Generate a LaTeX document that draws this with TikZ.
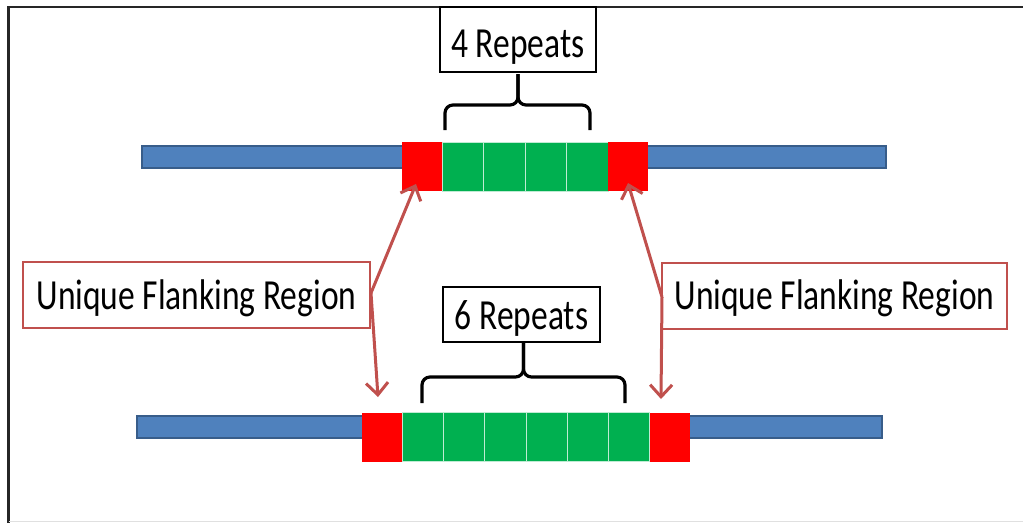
\documentclass[tikz,border=0pt]{standalone}
\usepackage{fontspec}
\setmainfont{Carlito}
\usetikzlibrary{arrows.meta}
\definecolor{barblue}{HTML}{4F81BD}
\definecolor{barline}{HTML}{385D8A}
\definecolor{flankred}{HTML}{FF0000}
\definecolor{repgreen}{HTML}{00B050}
\definecolor{accred}{HTML}{C0504D}
\tikzset{
  bar/.style={fill=barblue,draw=barline,line width=1.2pt},
  flank/.style={fill=flankred,draw=none,minimum width=40pt,minimum height=49pt,inner sep=0pt},
  rep/.style={fill=repgreen,draw=white!75!repgreen,line width=1pt,minimum width=41.4pt,minimum height=49pt,inner sep=0pt},
  countbox/.style={draw=black,line width=2pt,fill=white,minimum height=55pt,inner sep=0pt,font=\fontsize{33.5}{40}\selectfont},
  labelbox/.style={draw=accred,line width=2pt,fill=white,minimum width=347pt,minimum height=66pt,inner sep=0pt,font=\fontsize{33.5}{40}\selectfont},
  brace/.style={draw=black,line width=3.2pt,rounded corners=8pt},
  pointer/.style={draw=accred,line width=3pt,-{Straight Barb[length=12pt,width=22pt,line width=3pt]}}
}
\newcommand{\tallt}[2][-15pt]{\raisebox{#1}[0pt][0pt]{\scalebox{1}[1.28]{#2}}}
\begin{document}
\begin{tikzpicture}[x=1pt,y=-1pt]
\useasboundingbox (0,0) rectangle (1023,523);
\fill[white] (0,0) rectangle (1023,523);
% frame
\draw[black!85,line width=2.5pt] (1023,7) -- (8.5,7) -- (8.5,523);
\draw[black!12,line width=1pt] (8.5,521) -- (1023,521);

% top row
\node[bar,minimum width=744pt,minimum height=22pt,inner sep=0pt] (tbar) at (514,157) {};
\node[flank] (tL) at (422,166.5) {};
\foreach \i in {0,1,2,3}{
  \node[rep,minimum width=41.5pt] (tr\i) at ({442+20.75+41.5*\i},166.5) {};
}
\node[flank] (tR) at (628,166.5) {};

% bottom row
\node[bar,minimum width=745pt,minimum height=22pt,inner sep=0pt] (bbar) at (509.5,427) {};
\node[flank] (bL) at (382,437) {};
\foreach \i in {0,...,5}{
  \node[rep,minimum width=41.33pt] (br\i) at ({402+20.67+41.33*\i},437) {};
}
\node[flank] (bR) at (670,437) {};

% count boxes
\node[countbox,minimum width=156pt,minimum height=65pt] (four) at (518,39.5) {\tallt[-18pt]{4 Repeats}};
\node[countbox,minimum width=157pt] (six) at (521.5,314.5) {\tallt[-15pt]{6 Repeats}};

% braces
\draw[brace] (445,130) -- (445,105) -- (518,105) -- (518,74);
\draw[brace] (590,130) -- (590,105) -- (518,105) -- (518,74);
\draw[brace] (422,403) -- (422,377) -- (523.5,377) -- (523.5,343);
\draw[brace] (625,403) -- (625,377) -- (523.5,377) -- (523.5,343);

% flanking labels
\node[labelbox] (lf) at (196.5,295) {\tallt[-14pt]{Unique Flanking Region}};
\node[labelbox,minimum width=345pt] (rf) at (834.5,295.5) {\tallt[-14pt]{Unique Flanking Region}};

% pointer ends
\coordinate (tLp) at (416,184);
\coordinate (bLp) at (378,397);
\coordinate (tRp) at (628,183);
\coordinate (bRp) at (661,399);
\coordinate (lo) at (371,293);
\coordinate (ro) at (662,297);

\draw[pointer] (lo) -- (tLp);
\draw[pointer] (lo) -- (bLp);
\draw[pointer] (ro) -- (tRp);
\draw[pointer] (ro) -- (bRp);
\end{tikzpicture}
\end{document}
